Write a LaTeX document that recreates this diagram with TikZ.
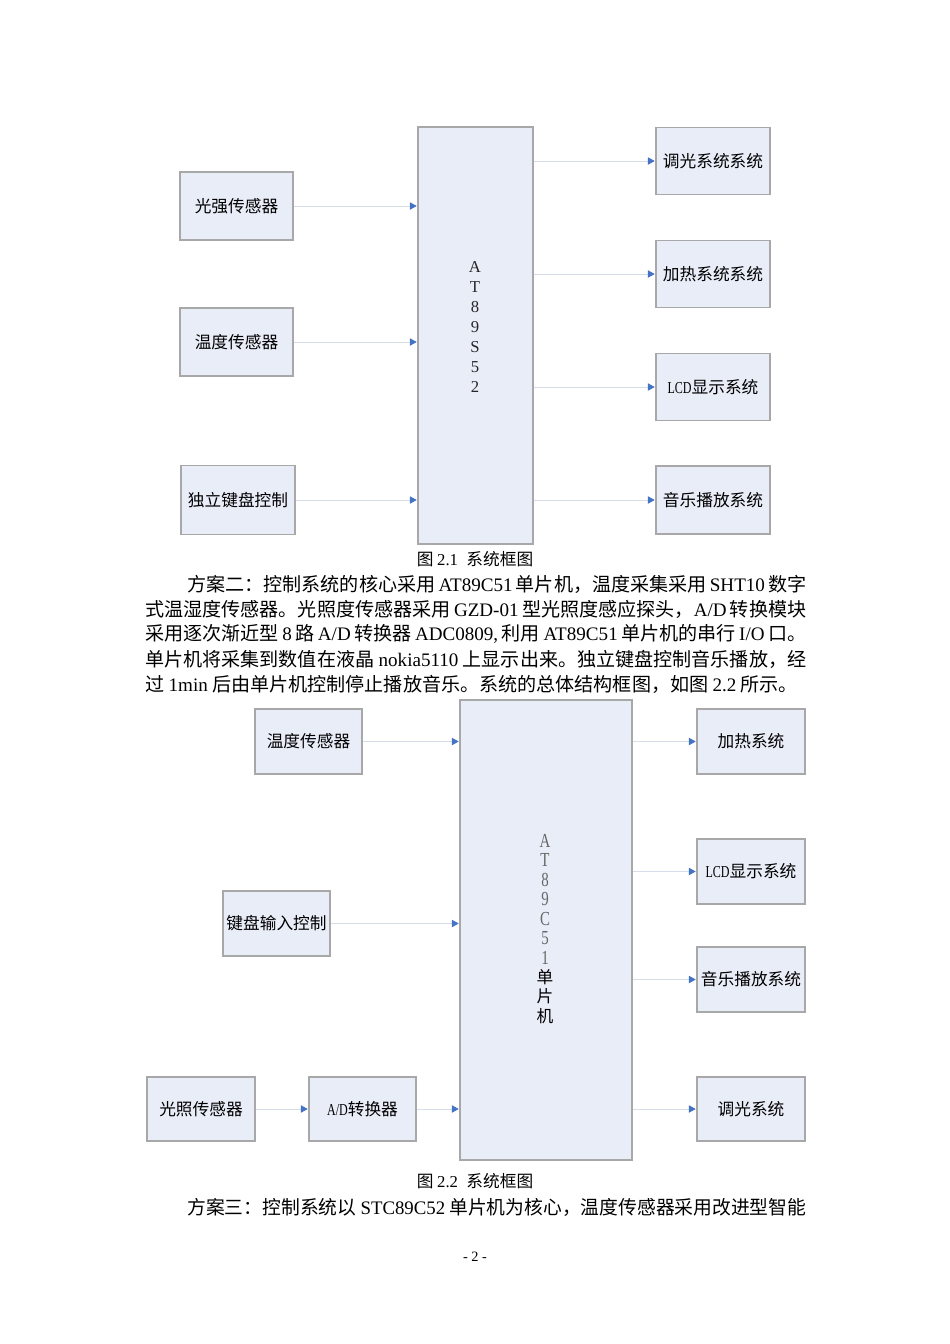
\documentclass[tikz,border=0pt]{standalone}
\usepackage{fontspec}
\setmainfont{Noto Sans CJK SC}
\newfontfamily\tnr{Liberation Serif}
\usetikzlibrary{arrows.meta}
\XeTeXlinebreaklocale "zh"
\XeTeXlinebreakskip=0pt plus 1pt minus 0.4pt
\newlength\pxu
\setlength\pxu{0.221mm}
\newcommand\lat[1]{{\tnr #1}}
\newcommand\nar[1]{\scalebox{0.72}[1]{\tnr #1}}
\newcommand\gnar[1]{\textcolor{black!60}{\scalebox{0.75}[1]{\fontsize{12.5}{12}\selectfont\tnr #1}}}
\definecolor{boxfill}{HTML}{E9EDF8}
\definecolor{boxline}{HTML}{A8A8A8}
\definecolor{feedline}{HTML}{D6DCE8}
\definecolor{tipblue}{HTML}{4472C4}
\tikzset{
  blk/.style={draw=boxline, fill=boxfill, line width=0.8pt, inner sep=0pt,
    font=\fontsize{10.5}{12}\selectfont},
  feed/.style={draw=feedline, line width=0.6pt, shorten >=0.4pt,
    -{Triangle[length=1.5mm,width=1.6mm,color=tipblue]}},
  bodyline/.style={anchor=west, inner sep=0pt, font=\fontsize{12}{14}\selectfont},
  figcap/.style={inner sep=0pt, font=\fontsize{10.5}{12}\selectfont}
}
\begin{document}
\begin{tikzpicture}[x=0.221mm, y=-0.221mm]
    \useasboundingbox[fill=white] (0,0) rectangle (950,1344);
    % figure 2.1
    \node[blk, minimum width=115\pxu, minimum height=417\pxu] (mcu1) at (475.5,335.5) {};
    \node[font=\fontsize{10.5}{12.5}\selectfont\tnr, text=black!85, align=center, inner sep=0pt] (chip1) at (475,327) {A\\T\\8\\9\\S\\5\\2};
    \node[blk, minimum width=113\pxu, minimum height=68\pxu] (light1) at (236.5,206) {光强传感器};
    \node[blk, minimum width=113\pxu, minimum height=68\pxu] (temp1) at (236.5,342) {温度传感器};
    \node[blk, minimum width=114\pxu, minimum height=69\pxu] (key1) at (238,500) {独立键盘控制};
    \node[blk, minimum width=114\pxu, minimum height=67\pxu] (dim1) at (713,161) {调光系统系统};
    \node[blk, minimum width=114\pxu, minimum height=67\pxu] (heat1) at (713,274) {加热系统系统};
    \node[blk, minimum width=114\pxu, minimum height=67\pxu] (lcd1) at (713,387) {\nar{LCD}显示系统};
    \node[blk, minimum width=114\pxu, minimum height=68\pxu] (music1) at (713,500) {音乐播放系统};
    \foreach \s in {light1,temp1,key1}
        \draw[feed] (\s.east) -- (\s.east -| mcu1.west);
    \foreach \t in {dim1,heat1,lcd1,music1}
        \draw[feed] (\t.west -| mcu1.east) -- (\t.west);
    \node[figcap] (cap1) at (475,559) {图 \lat{2.1}\enspace 系统框图};
    % text between the figures
    \node[bodyline] (line1) at (187,584) {\makebox[619\pxu][s]{方案二：控制系统的核心采用 \lat{AT89C51} 单片机，温度采集采用 \lat{SHT10} 数字}};
    \node[bodyline] (line2) at (145,609) {\makebox[661\pxu][s]{式温湿度传感器。光照度传感器采用 \lat{GZD-01} 型光照度感应探头，\lat{A/D} 转换模块}};
    \node[bodyline] (line3) at (145,634) {\makebox[661\pxu][s]{采用逐次渐近型 \lat{8} 路 \lat{A/D} 转换器 \lat{ADC0809,} 利用 \lat{AT89C51} 单片机的串行 \lat{I/O} 口。}};
    \node[bodyline] (line4) at (145,659) {\makebox[661\pxu][s]{单片机将采集到数值在液晶 \lat{nokia5110} 上显示出来。独立键盘控制音乐播放，经}};
    \node[bodyline] (line5) at (145,684) {过 \lat{1min} 后由单片机控制停止播放音乐。系统的总体结构框图，如图 \lat{2.2} 所示。};
    % figure 2.2
    \node[blk, minimum width=172\pxu, minimum height=460\pxu] (mcu2) at (546,930) {};
    \node[font=\fontsize{10.5}{12.2}\selectfont, align=center, inner sep=0pt] (chip2) at (545,929)
        {\gnar{A}\\\gnar{T}\\\gnar{8}\\\gnar{9}\\\gnar{C}\\\gnar{5}\\\gnar{1}\\单\\片\\机};
    \node[blk, minimum width=107\pxu, minimum height=65\pxu] (temp2) at (308.5,741.5) {温度传感器};
    \node[blk, minimum width=107\pxu, minimum height=65\pxu] (key2) at (276.5,923.5) {键盘输入控制};
    \node[blk, minimum width=108\pxu, minimum height=64\pxu] (light2) at (201,1109) {光照传感器};
    \node[blk, minimum width=107\pxu, minimum height=64\pxu] (adc2) at (362.5,1109) {\nar{A/D}转换器};
    \node[blk, minimum width=108\pxu, minimum height=65\pxu] (heat2) at (751,741.5) {加热系统};
    \node[blk, minimum width=108\pxu, minimum height=65\pxu] (lcd2) at (751,871.5) {\nar{LCD}显示系统};
    \node[blk, minimum width=108\pxu, minimum height=65\pxu] (music2) at (751,979.5) {音乐播放系统};
    \node[blk, minimum width=108\pxu, minimum height=64\pxu] (dim2) at (751,1109) {调光系统};
    \foreach \s in {temp2,key2,adc2}
        \draw[feed] (\s.east) -- (\s.east -| mcu2.west);
    \draw[feed] (light2) -- (adc2);
    \foreach \t in {heat2,lcd2,music2,dim2}
        \draw[feed] (\t.west -| mcu2.east) -- (\t.west);
    \node[figcap] (cap2) at (475,1181) {图 \lat{2.2}\enspace 系统框图};
    \node[bodyline] (line6) at (187,1207) {\resizebox{619\pxu}{\height}{方案三：控制系统以 \lat{STC89C52} 单片机为核心，温度传感器采用改进型智能}};
    \node[inner sep=0pt, font=\fontsize{9}{10}\selectfont\tnr] (pageno) at (475,1257) {- 2 -};
\end{tikzpicture}
\end{document}
